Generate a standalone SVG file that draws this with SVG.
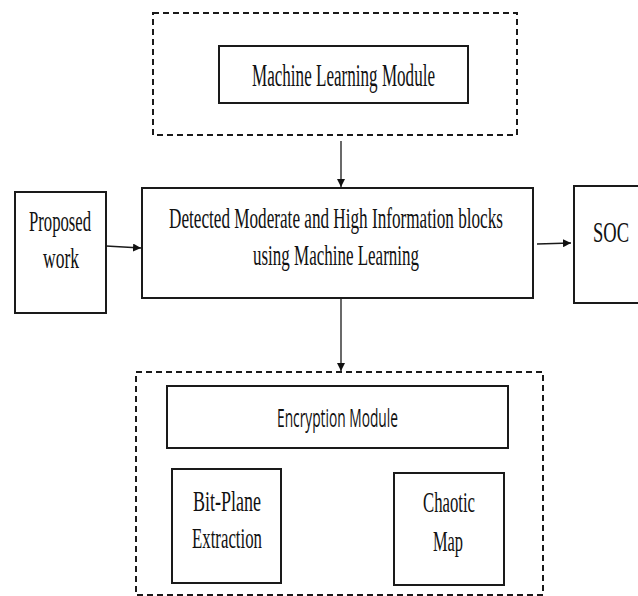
<svg xmlns="http://www.w3.org/2000/svg" width="638" height="596" viewBox="0 0 638 596">
<style>
.box{fill:#fff;stroke:#1a1a1a;stroke-width:2}
.dash{fill:none;stroke:#1a1a1a;stroke-width:2;stroke-dasharray:6 4}
.t{font-family:"Liberation Serif","Times New Roman",serif;fill:#111;text-anchor:start}
.s{font-family:"Open Sans","Liberation Sans",sans-serif;fill:#111}
.ln{stroke:#1a1a1a;stroke-width:1.3;fill:none}
</style>
<defs>
<marker id="ah" viewBox="0 0 10 10" refX="10" refY="5" markerWidth="8" markerHeight="8" markerUnits="userSpaceOnUse" orient="auto">
<path d="M0,0 L10,5 L0,10 z" fill="#111"/>
</marker>
</defs>
<rect width="638" height="596" fill="#fff"/>
<g id="ml-group">
<rect class="dash" x="153" y="13" width="364" height="122"/>
</g>
<g id="ml-module">
<rect class="box" x="219" y="46" width="249" height="57"/>
<text class="t" x="252" y="86" font-size="31" textLength="183" lengthAdjust="spacingAndGlyphs">Machine Learning Module</text>
</g>
<g id="proposed">
<rect class="box" x="15" y="192" width="91" height="121"/>
<text class="t" x="29" y="231" font-size="30" textLength="62" lengthAdjust="spacingAndGlyphs">Proposed</text>
<text class="t" x="43" y="268" font-size="30" textLength="36" lengthAdjust="spacingAndGlyphs">work</text>
</g>
<g id="detected">
<rect class="box" x="142" y="188" width="391" height="110"/>
<text class="t" x="169" y="228" font-size="29" textLength="334" lengthAdjust="spacingAndGlyphs">Detected Moderate and High Information blocks</text>
<text class="t" x="253" y="265" font-size="29" textLength="166" lengthAdjust="spacingAndGlyphs">using Machine Learning</text>
</g>
<g id="soc">
<rect class="box" x="574" y="186" width="70" height="117"/>
<text class="t" x="593" y="242" font-size="30" textLength="36" lengthAdjust="spacingAndGlyphs">SOC</text>
</g>
<g id="enc-group">
<rect class="dash" x="136" y="372" width="407" height="223"/>
</g>
<g id="enc-module">
<rect class="box" x="167" y="386" width="341" height="62"/>
<text class="s" x="277" y="427" font-size="26" textLength="121" lengthAdjust="spacingAndGlyphs">Encryption Module</text>
</g>
<g id="bitplane">
<rect class="box" x="172" y="469" width="109" height="114"/>
<text class="t" x="193" y="511" font-size="29" textLength="68" lengthAdjust="spacingAndGlyphs">Bit-Plane</text>
<text class="t" x="192" y="548" font-size="29" textLength="70" lengthAdjust="spacingAndGlyphs">Extraction</text>
</g>
<g id="chaotic">
<rect class="box" x="394" y="473" width="110" height="112"/>
<text class="t" x="423" y="512" font-size="29" textLength="52" lengthAdjust="spacingAndGlyphs">Chaotic</text>
<text class="t" x="433" y="551" font-size="29" textLength="30" lengthAdjust="spacingAndGlyphs">Map</text>
</g>
<g id="connectors">
<line class="ln" x1="341" y1="141" x2="341" y2="187" marker-end="url(#ah)"/>
<line class="ln" x1="106" y1="246" x2="141" y2="248" marker-end="url(#ah)"/>
<line class="ln" x1="537" y1="244" x2="571" y2="243" marker-end="url(#ah)"/>
<line class="ln" x1="341" y1="299" x2="341" y2="371" marker-end="url(#ah)"/>
</g>
</svg>
